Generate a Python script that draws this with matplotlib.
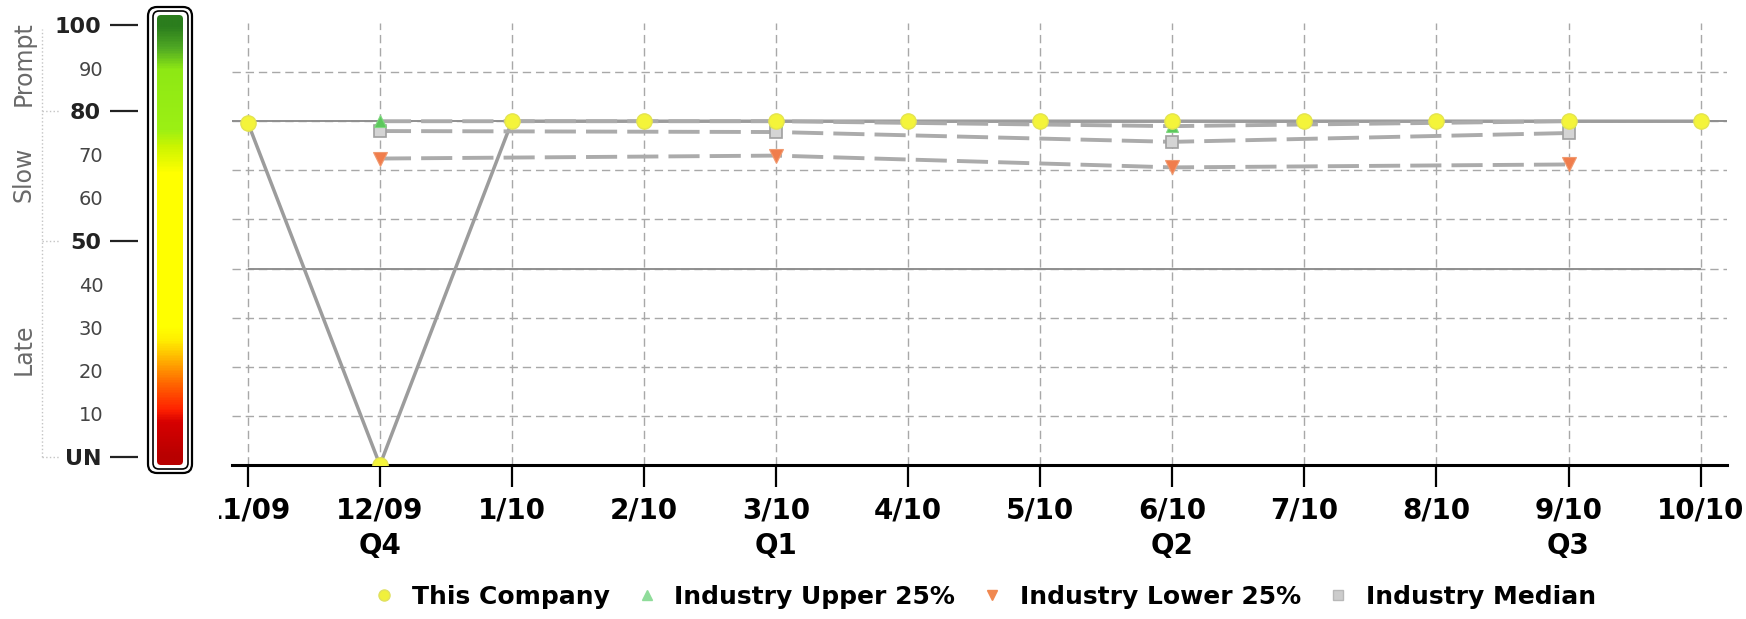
import numpy as np
import matplotlib.pyplot as plt
import matplotlib.transforms as mtransforms
from matplotlib.colors import LinearSegmentedColormap
from matplotlib.patches import FancyBboxPatch, Rectangle
from matplotlib.lines import Line2D

############################################################################################################
# data (plot units: 0 at the x axis, 10 per grid line)
months = ["11/09", "12/09", "1/10", "2/10", "3/10", "4/10", "5/10", "6/10", "7/10", "8/10", "9/10", "10/10"]
quarters = ["", "Q4", "", "", "Q1", "", "", "Q2", "", "", "Q3", ""]

company = [69.7, 0, 70, 70, 70, 70, 70, 70, 70, 70, 70, 70]
quarter_idx = [1, 4, 7, 10]
upper_25 = [70, 70, 69, 70]
median = [68.0, 67.8, 65.8, 67.6]
lower_25 = [62.4, 63.0, 60.6, 61.2]
ref_top = 70
ref_low = 40

# colour scale on the left
scale_major = [0, 50, 80, 100]
scale_major_labels = ["UN", "50", "80", "100"]
scale_minor = [10, 20, 30, 40, 60, 70, 90]
bands = ["Prompt", "Slow", "Late"]
band_mid = [91, 65.5, 25]

############################################################################################################
W, H = 1746, 619
fig = plt.figure(figsize=(W / 100, H / 100), dpi=100)

def px_rect(x0, y0, x1, y1):
    #pixel box (measured from top-left) -> figure fraction
    return [x0 / W, 1 - y1 / H, (x1 - x0) / W, (y1 - y0) / H]

#main plot
ax = fig.add_axes(px_rect(232, 23, 1727, 465))
x = np.arange(len(months))
qx = x[quarter_idx]
ax.set_xlim(-0.12, 11.2)
ax.set_ylim(0, 90)

ax.set_yticks(range(10, 90, 10))
ax.tick_params(axis='y', length=0, labelleft=False)
ax.set_xticks(x)
ax.set_xticklabels([m if q == "" else f"{m}\n{q}" for m, q in zip(months, quarters)],
                   fontweight='bold', linespacing=1.3)
ax.tick_params(axis='x', direction='out', length=16, width=1.6, color='black', pad=7, labelsize=20)
ax.grid(True, color='#a8a8a8', lw=1, ls=(0, (6, 3.5)))
ax.set_axisbelow(True)
for s in ['left', 'top', 'right']:
    ax.spines[s].set_visible(False)
ax.spines['bottom'].set_linewidth(2.2)

ax.axhline(ref_top, color='#8f8f8f', lw=1.4, zorder=2)
ax.hlines(ref_low, x[0], x[-1], color='#8f8f8f', lw=1.4, zorder=2)

dash = (0, (8, 2.6))
ax.plot(x, company, color='#9c9c9c', lw=2.5, zorder=3)
ax.plot(qx, upper_25, color='#ababab', lw=2.8, ls=dash, zorder=3)
ax.plot(qx, median, color='#ababab', lw=2.8, ls=dash, zorder=3)
ax.plot(qx, lower_25, color='#ababab', lw=2.8, ls=dash, zorder=3)

ax.plot(qx, median, ls='none', marker='s', ms=9, mfc='#d4d4d4', mec='#a0a0a0', mew=1.2, zorder=4)
ax.plot(qx, lower_25, ls='none', marker='v', ms=10, mfc='#f07d4c', mec='#f09a70', mew=0.8, zorder=4)
ax.plot(qx, upper_25, ls='none', marker='^', ms=9, mfc='#5cc85c', mec='#80d880', mew=0.8, zorder=4)
ax.plot(x, company, ls='none', marker='o', ms=11, mfc='#f4f43a', mec='#e4e450', mew=1, zorder=5)

#hide the left part of the first date label like the original
fig.add_artist(Rectangle((200 / W, 1 - 535 / H), 19 / W, 45 / H, transform=fig.transFigure,
                         fc='white', ec='none', zorder=10))

#legend
handles = [Line2D([], [], ls='none', marker='o', ms=8, mfc='#f0f03c', mec='#e0e060'),
           Line2D([], [], ls='none', marker='^', ms=7, mfc='#8fdc9a', mec='#8fdc9a'),
           Line2D([], [], ls='none', marker='v', ms=7, mfc='#f08850', mec='#f08850'),
           Line2D([], [], ls='none', marker='s', ms=7, mfc='#cccccc', mec='#b8b8b8')]
fig.legend(handles, ["This Company", "Industry Upper 25%", "Industry Lower 25%", "Industry Median"],
           loc='center', bbox_to_anchor=(985 / W, 1 - 597 / H), ncol=4, frameon=False,
           prop=dict(weight='bold', size=18), handlelength=0.8, handletextpad=0.71,
           columnspacing=1.07, borderaxespad=0)

############################################################################################################
#colour scale: ticks
sax = fig.add_axes(px_rect(138, 25, 200, 457))
sax.set_ylim(0, 100)
sax.set_xticks([])
sax.patch.set_visible(False)
for s in sax.spines.values():
    s.set_visible(False)
sax.set_yticks(scale_major)
sax.set_yticklabels(scale_major_labels, fontweight='bold', color='#222222')
sax.set_yticks(scale_minor, minor=True)
sax.set_yticklabels([str(v) for v in scale_minor], minor=True, color='#444444')
sax.tick_params(axis='y', which='major', length=20, width=1.6, color='#222222', pad=6.5, labelsize=16)
sax.tick_params(axis='y', which='minor', length=0, pad=25, labelsize=14)

blend = mtransforms.blended_transform_factory(fig.transFigure, sax.transData)
fig.add_artist(Line2D([42 / W, 42 / W], [0, 99], transform=blend, color='#c4c4c4', lw=1, ls=':'))
for v in [80, 50, 0]:
    fig.add_artist(Line2D([42 / W, 60 / W], [v, v], transform=blend, color='#c4c4c4', lw=1, ls=':'))
for name, v in zip(bands, band_mid):
    fig.text(24 / W, v, name, transform=blend, rotation=90, ha='center', va='center',
             fontsize=17, color='#6a6a6a')

#colour scale: the bar, drawn in pixel units
pax = fig.add_axes(px_rect(138, 0, 205, 480))
pax.set_xlim(138, 205)
pax.set_ylim(480, 0)
pax.axis('off')
pax.add_patch(FancyBboxPatch((148, 7), 44, 466, boxstyle='round,pad=0,rounding_size=9',
                             fc='white', ec='black', lw=1.6, zorder=1))
pax.add_patch(FancyBboxPatch((153, 11), 35, 458, boxstyle='round,pad=0,rounding_size=6',
                             fc='none', ec='black', lw=1.2, zorder=2))
clip = FancyBboxPatch((157, 15), 26, 450, boxstyle='round,pad=0,rounding_size=4', fc='none', ec='none')
pax.add_patch(clip)

cmap = LinearSegmentedColormap.from_list('pay', [
    (0.0, '#b80000'), (0.08, '#d60000'), (0.11, '#ff2200'), (0.17, '#ff6600'),
    (0.22, '#ffaa00'), (0.27, '#ffee00'), (0.30, '#ffff00'), (0.66, '#ffff00'),
    (0.72, '#ccf500'), (0.76, '#9cf014'), (0.90, '#8ee814'), (0.95, '#4fa824'), (1.0, '#2b7d1d')])
rows = np.arange(15, 465)
vals = np.clip((457 - rows) / 4.32, 0, 100) / 100
img = cmap(vals)[:, None, :]
im = pax.imshow(img, extent=(157, 183, 465, 15), aspect='auto', interpolation='bilinear', zorder=3)
im.set_clip_path(clip)

plt.savefig("out.png", dpi=100)
